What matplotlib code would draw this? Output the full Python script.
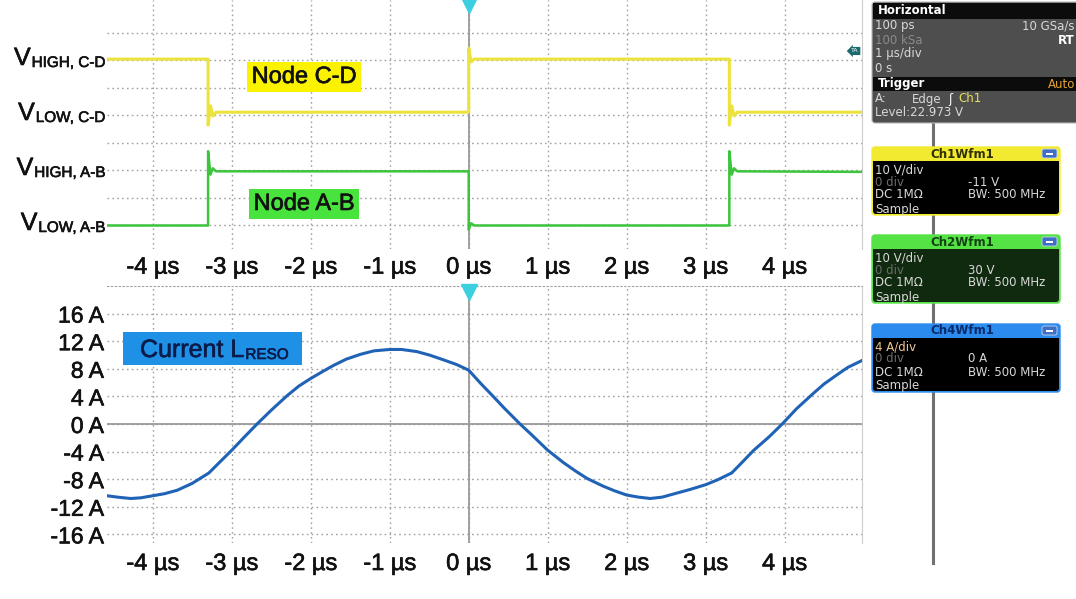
import matplotlib
matplotlib.use("Agg")
import matplotlib.pyplot as plt
import matplotlib.transforms as mtransforms
import matplotlib.patheffects as pe
from matplotlib.patches import Rectangle, FancyBboxPatch
from matplotlib.lines import Line2D
from matplotlib.text import Annotation

W, H = 1076, 599

# time axis (µs)
xticks_us = [-4, -3, -2, -1, 0, 1, 2, 3, 4]
xtick_labels = [f"{v} µs" for v in xticks_us]
trigger_t = 0.0

# node C-D (yellow, ch1) and node A-B (green, ch2), screen divisions
cd_t = [-4.58, -3.30, -3.30, -3.27, -3.24, -3.20, 0.0, 0.0, 0.03, 0.07, 3.30, 3.30, 3.33, 3.36, 3.40, 4.98]
cd_v = [7.05, 7.05, 4.65, 5.35, 4.98, 5.12, 5.12, 7.45, 6.95, 7.05, 7.05, 4.65, 5.35, 4.98, 5.12, 5.12]
ab_t = [-4.58, -3.30, -3.30, -3.27, -3.24, -3.20, 0.0, 0.0, 0.03, 0.07, 3.30, 3.30, 3.33, 3.36, 3.40, 4.98]
ab_v = [1.0, 1.0, 3.70, 2.85, 3.08, 2.97, 2.97, 0.85, 1.08, 1.0, 1.0, 3.70, 2.85, 3.08, 2.97, 2.95]
level_div = [7, 5, 3, 1]
level_sub = ["HIGH, C-D", "LOW, C-D", "HIGH, A-B", "LOW, A-B"]

# resonant inductor current (A)
cur_t = [-4.58, -4.45, -4.28, -4.15, -4.0, -3.85, -3.69, -3.5, -3.29, -3.15, -3.0, -2.85,
         -2.68, -2.5, -2.30, -2.15, -2.0, -1.85, -1.71, -1.55, -1.37, -1.2, -1.0, -0.85,
         -0.66, -0.5, -0.32, -0.15, 0.0, 0.15, 0.31, 0.45, 0.65, 0.8, 1.0, 1.2, 1.35,
         1.5, 1.7, 1.85, 2.0, 2.15, 2.3, 2.45, 2.64, 2.8, 3.0, 3.15, 3.33, 3.45, 3.61,
         3.8, 3.97, 4.15, 4.37, 4.5, 4.66, 4.8, 4.98]
cur_a = [-10.4, -10.6, -10.8, -10.7, -10.4, -10.1, -9.6, -8.6, -7.1, -5.5, -3.8, -2.0,
         0.0, 2.0, 4.1, 5.5, 6.6, 7.6, 8.5, 9.4, 10.1, 10.6, 10.8, 10.8,
         10.5, 10.0, 9.3, 8.6, 7.8, 5.9, 4.0, 2.3, 0.0, -1.6, -3.8, -5.6, -6.8,
         -7.9, -9.0, -9.7, -10.3, -10.6, -10.8, -10.6, -10.0, -9.5, -8.8, -8.1, -7.1, -5.7, -3.8,
         -1.9, 0.0, 2.2, 4.5, 5.8, 7.1, 8.2, 9.2]
amp_ticks = [16, 12, 8, 4, 0, -4, -8, -12, -16]
amp_labels = [f"{v} A" for v in amp_ticks]

plt.rcParams["font.family"] = ["Liberation Sans", "DejaVu Sans"]

fig = plt.figure(figsize=(W / 100, H / 100), dpi=100)
fig.patch.set_facecolor("white")
P = mtransforms.Affine2D().scale(1, -1).translate(0, H)  # pixel coords, top-left origin


def heavy(color="#111111"):
    return [pe.withStroke(linewidth=0.45, foreground=color)]


grid_c = "#a2a2a2"
grid_ls = (0, (1.2, 2.3))
axis_c = "#9a9a9a"

ax1 = fig.add_axes([107 / W, 1 - 249 / H, 755 / W, 249 / H])
ax2 = fig.add_axes([107 / W, 1 - 543 / H, 755 / W, 257 / H])

for ax in (ax1, ax2):
    ax.set_xlim(-4.58, 4.98)
    ax.set_xticks(xticks_us)
    ax.set_xticklabels(xtick_labels)
    ax.grid(True, color=grid_c, linestyle=grid_ls, linewidth=1.0)
    ax.set_axisbelow(True)
    for s in ("left", "bottom", "top"):
        ax.spines[s].set_visible(False)
    ax.spines["right"].set_color("#cccccc")
    ax.spines["right"].set_linewidth(0.8)
    ax.axvline(trigger_t, color=axis_c, lw=1.3, zorder=1)
    ax.plot([trigger_t], [0.978], marker="v", ms=11, color="#3ccfe0",
            transform=ax.get_xaxis_transform(), clip_on=False, zorder=5)

ax1.set_ylim(0.145, 9.2)
ax1.set_yticks(range(1, 9))
ax1.tick_params(axis="y", length=0, labelleft=False)
ax1.tick_params(axis="x", length=0, labelsize=17, pad=5.5, labelcolor="#111111")
ax1.plot(cd_t, cd_v, color="#ebe33c", lw=2.2, zorder=3)
ax1.plot(ab_t, ab_v, color="#3cc43c", lw=1.8, zorder=3)

for d, sub in zip(level_div, level_sub):
    st = ax1.annotate(sub, xy=(0, d), xycoords=ax1.get_yaxis_transform(),
                      xytext=(-2, -6.5), textcoords="offset pixels", color="#111111",
                      ha="right", va="baseline", fontsize=11, annotation_clip=False,
                      path_effects=heavy())
    ax1.annotate("V", xy=(0, 0), xycoords=st, xytext=(-1, 0), textcoords="offset pixels",
                 ha="right", va="bottom", fontsize=18, annotation_clip=False,
                 color="#111111", path_effects=heavy())

ax2.set_ylim(-17.25, 20)
ax2.set_yticks(amp_ticks)
ax2.set_yticklabels(amp_labels)
ax2.tick_params(axis="y", length=0, labelsize=16.5, pad=2.2, labelcolor="#111111")
ax2.tick_params(axis="x", length=0, labelsize=17, pad=7.2, labelcolor="#111111")
ax2.spines["top"].set_visible(True)
ax2.spines["top"].set_color(grid_c)
ax2.spines["top"].set_linestyle(grid_ls)
ax2.axhline(0, color=axis_c, lw=1.3, zorder=1)
ax2.plot(cur_t, cur_a, color="#2063b6", lw=2.2, zorder=3, solid_joinstyle="round")

for ax in (ax1, ax2):
    for lbl in ax.get_xticklabels() + ax.get_yticklabels():
        lbl.set_path_effects(heavy())

# annotation boxes
fig.text(304, 77, "Node C-D", transform=P, fontsize=17, ha="center", va="center",
         color="#111111", path_effects=heavy(),
         bbox=dict(boxstyle="square,pad=0.18", fc="#fbf200", ec="none"))
fig.text(304, 204, "Node A-B", transform=P, fontsize=17, ha="center", va="center",
         color="#111111", path_effects=heavy(),
         bbox=dict(boxstyle="square,pad=0.18", fc="#48e33c", ec="none"))
fig.add_artist(Rectangle((123, 332), 179, 33, fc="#1e90e6", ec="none", transform=P))
ct = fig.text(140, 357, "Current L", transform=P, fontsize=18, color="#0b1c4a",
              va="baseline", zorder=5, path_effects=heavy("#0b1c4a"))
reso = Annotation("RESO", xy=(1, 0), xycoords=ct, xytext=(1, 0), textcoords="offset pixels",
                  fontsize=11, color="#0b1c4a", va="bottom", ha="left",
                  annotation_clip=False, zorder=5, path_effects=heavy("#0b1c4a"))
fig.add_artist(reso)

# trigger-level tag on the right of the upper plot
fig.text(855, 51, "TA", transform=P, fontsize=4.5, color="white", ha="center", va="center",
         bbox=dict(boxstyle="larrow,pad=0.25", fc="#1c6a6e", ec="none"))

# right-hand info panel
mono = dict(family="DejaVu Sans", fontsize=8.5)


def rbox(x0, y0, x1, y1, fc, ec="none", lw=0.0, r=3):
    fig.add_artist(FancyBboxPatch((x0, y0), x1 - x0, y1 - y0,
                                  boxstyle=f"round,pad=0,rounding_size={r}",
                                  fc=fc, ec=ec, lw=lw, transform=P))


def rect(x0, y0, x1, y1, fc):
    fig.add_artist(Rectangle((x0, y0), x1 - x0, y1 - y0, fc=fc, ec="none", transform=P))


def txt(x, y, s, color="#d8d8d8", ha="left", bold=False):
    fig.text(x, y, s, transform=P, color=color, ha=ha, va="center",
             fontweight="bold" if bold else "normal", **mono)


fig.add_artist(Line2D([933, 933], [120, 563], color="#707070", lw=2.2, transform=P, zorder=0.5))

rbox(872, 2, 1090, 123, "#4e4e4e", ec="#b8b8b8", lw=0.8)
rect(873, 3, 1090, 19, "#0c0c0c")
rect(873, 77, 1090, 91, "#0c0c0c")
txt(878, 11, "Horizontal", color="white", bold=True)
txt(875, 26, "100 ps")
txt(1075, 26, "10 GSa/s", ha="right")
txt(875, 40, "100 kSa", color="#8a8a8a")
txt(1075, 40, "RT", color="white", ha="right", bold=True)
txt(875, 54, "1 µs/div")
txt(875, 68, "0 s")
txt(878, 84, "Trigger", color="white", bold=True)
txt(1075, 84, "Auto", color="#e0a030", ha="right")
txt(875, 99, "A:")
txt(912, 99, "Edge")
txt(948, 99, "ʃ", color="white")
txt(958, 99, "Ch1", color="#e8e060")
txt(875, 113, "Level:22.973 V")

channels = [
    (147, "Ch1Wfm1", "#f2ea30", "#000000", "#2e2e00", "10 V/div", "#d8d8d8", "-11 V"),
    (235, "Ch2Wfm1", "#55e245", "#0f2a0f", "#134013", "10 V/div", "#d8d8d8", "30 V"),
    (324, "Ch4Wfm1", "#2b8bef", "#000000", "#0a2a6a", "4 A/div", "#f2c890", "0 A"),
]
for top, title, hc, bc, tc, scale, sc, offs in channels:
    bot = top + 68
    rbox(872, top, 1060, bot, hc, ec=hc, lw=1.0)
    rbox(873, top + 14, 1059, bot - 1, bc)
    rect(873, top + 14, 1059, top + 20, bc)
    txt(962, top + 7, title, color=tc, ha="center", bold=True)
    rbox(1042, top + 2, 1057, top + 11, "#3f6fc4", ec="#c8d6f0", lw=0.6, r=2)
    rect(1046, top + 6, 1053, top + 7.5, "white")
    txt(875, top + 23, scale, color=sc)
    txt(875, top + 35, "0 div", color="#6c6c6c")
    txt(968, top + 35, offs)
    txt(875, top + 48, "DC 1MΩ")
    txt(968, top + 48, "BW: 500 MHz")
    txt(875, top + 62, "Sample")

fig.savefig("out.png", dpi=100)
